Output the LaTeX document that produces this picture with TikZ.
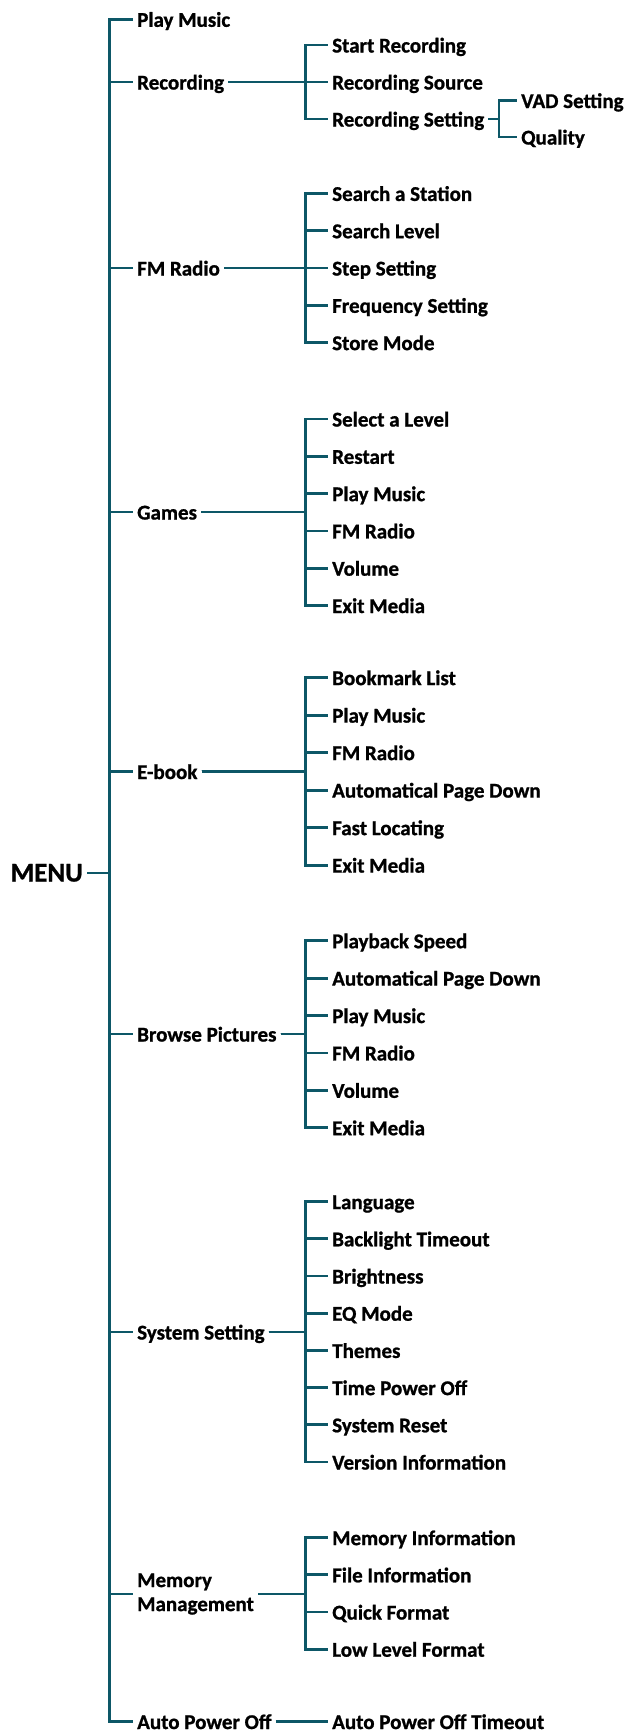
\documentclass[tikz,border=0pt]{standalone}
\usepackage{fontspec}
\setmainfont{Carlito}[BoldFeatures={FakeBold=1}]
\usepackage{tikz}
\usetikzlibrary{positioning}
\definecolor{azulMenu}{HTML}{0D5767}

\begin{document}
\begin{tikzpicture}[
    x=1pt, y=-1pt,
    linea/.style={draw=azulMenu, line width=2.8pt},
    raiz/.style={font=\fontsize{27}{30}\selectfont\bfseries, anchor=east, inner xsep=4pt, inner ysep=0pt, text height=19pt, text depth=2pt},
    opcion/.style={font=\fontsize{21}{24}\selectfont\bfseries, anchor=west, inner xsep=4pt, inner ysep=0pt, text height=17pt, text depth=2pt},
    doble/.style={font=\fontsize{21}{24}\selectfont\bfseries, anchor=west, inner xsep=4pt, inner ysep=0pt, align=left}
  ]
  \useasboundingbox (0,0) rectangle (629,1732);
  \coordinate (tronco) at (109.5,0);
  \coordinate (rama) at (305.5,0);
  \coordinate (rama3) at (499,0);

  % Raiz y primer nivel
  \node[raiz] (menu) at (87,873) {MENU};
  \node[opcion] (play) at (133,19.3) {Play Music};
  \node[opcion] (rec) at (133,82) {Recording};
  \node[opcion] (fm) at (133,268) {FM Radio};
  \node[opcion] (games) at (133,512) {Games};
  \node[opcion] (ebook) at (133,771.5) {E-book};
  \node[opcion] (browse) at (133,1034) {Browse Pictures};
  \node[opcion] (sys) at (133,1332) {System Setting};
  \node[doble] (mem) at (133,1594) {Memory\\Management};
  \node[opcion] (apo) at (133,1721.5) {Auto Power Off};
  \foreach \n in {play,rec,fm,games,ebook,browse,sys,mem,apo}
    \draw[linea] (menu.east) -- (menu.east -| tronco) |- (\n.west);

  % Recording
  \foreach \t [count=\i] in {Start Recording, Recording Source, Recording Setting}
    \node[opcion] (rec\i) at (328,{45+(\i-1)*37}) {\t};
  \foreach \i in {1,...,3}
    \draw[linea] (rec.east) -- (rec.east -| rama) |- (rec\i.west);
  \node[opcion] (vad) at (517,100.5) {VAD Setting};
  \node[opcion] (qual) at (517,137) {Quality};
  \foreach \n in {vad,qual}
    \draw[linea] (rec3.east) -- (rec3.east -| rama3) |- (\n.west);

  % FM Radio
  \foreach \t [count=\i] in {Search a Station, Search Level, Step Setting, Frequency Setting, Store Mode}
    \node[opcion] (fm\i) at (328,{193.4+(\i-1)*37.3}) {\t};
  \foreach \i in {1,...,5}
    \draw[linea] (fm.east) -- (fm.east -| rama) |- (fm\i.west);

  % Games
  \foreach \t [count=\i] in {Select a Level, Restart, Play Music, FM Radio, Volume, Exit Media}
    \node[opcion] (games\i) at (328,{419+(\i-1)*37.3}) {\t};
  \foreach \i in {1,...,6}
    \draw[linea] (games.east) -- (games.east -| rama) |- (games\i.west);

  % E-book
  \foreach \t [count=\i] in {Bookmark List, Play Music, FM Radio, Automatical Page Down, Fast Locating, Exit Media}
    \node[opcion] (ebook\i) at (328,{677.6+(\i-1)*37.5}) {\t};
  \foreach \i in {1,...,6}
    \draw[linea] (ebook.east) -- (ebook.east -| rama) |- (ebook\i.west);

  % Browse Pictures
  \foreach \t [count=\i] in {Playback Speed, Automatical Page Down, Play Music, FM Radio, Volume, Exit Media}
    \node[opcion] (browse\i) at (328,{940.7+(\i-1)*37.4}) {\t};
  \foreach \i in {1,...,6}
    \draw[linea] (browse.east) -- (browse.east -| rama) |- (browse\i.west);

  % System Setting
  \foreach \t [count=\i] in {Language, Backlight Timeout, Brightness, EQ Mode, Themes, Time Power Off, System Reset, Version Information}
    \node[opcion] (sys\i) at (328,{1201.6+(\i-1)*37.2}) {\t};
  \foreach \i in {1,...,8}
    \draw[linea] (sys.east) -- (sys.east -| rama) |- (sys\i.west);

  % Memory Management
  \foreach \t [count=\i] in {Memory Information, File Information, Quick Format, Low Level Format}
    \node[opcion] (mem\i) at (328,{1537.6+(\i-1)*37.2}) {\t};
  \foreach \i in {1,...,4}
    \draw[linea] (mem.east) -- (mem.east -| rama) |- (mem\i.west);

  % Auto Power Off
  \node[opcion] (apoT) at (328,1721.5) {Auto Power Off Timeout};
  \draw[linea] (apo.east) -- (apoT.west);
\end{tikzpicture}
\end{document}
